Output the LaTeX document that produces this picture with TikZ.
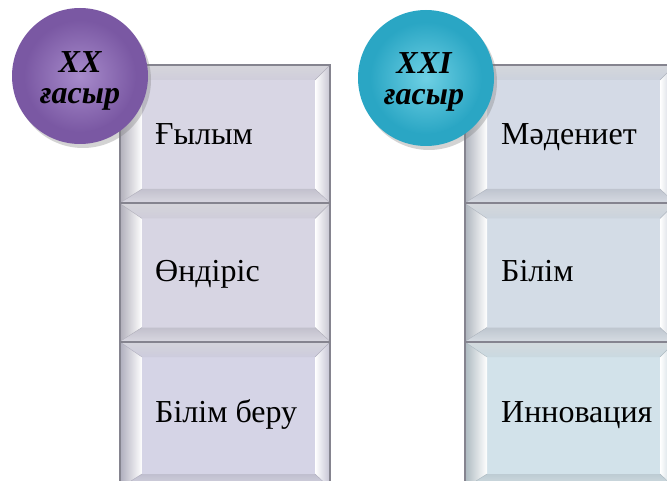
\documentclass[tikz,border=0pt]{standalone}
\usepackage{fontspec}
\setmainfont{Liberation Serif}
\usetikzlibrary{shadows,calc}
\definecolor{boxedge}{HTML}{85848F}
\definecolor{lavA}{HTML}{D8D6E4}
\definecolor{lavB}{HTML}{D7D5E3}
\definecolor{lavC}{HTML}{D5D4E6}
\definecolor{bluA}{HTML}{D4DAE6}
\definecolor{bluB}{HTML}{D3DCE6}
\definecolor{bluC}{HTML}{D2E2EA}
\definecolor{purp}{HTML}{7A58A3}
\definecolor{purpL}{HTML}{A78BCB}
\definecolor{teal}{HTML}{2AA6C4}
\definecolor{tealL}{HTML}{6ED0E4}
\begin{document}
\begin{tikzpicture}[x=1pt,y=-1pt,
  bevbox/.style={draw=boxedge, line width=1.2pt, fill=#1, minimum width=210pt,
    minimum height=138pt, inner sep=0pt,
    path picture={
      \coordinate (pa) at (path picture bounding box.north west);
      \coordinate (pb) at (path picture bounding box.north east);
      \coordinate (pc) at (path picture bounding box.south east);
      \coordinate (pd) at (path picture bounding box.south west);
      \coordinate (qa) at ($(pa)+(22pt,-15pt)$);
      \coordinate (qb) at ($(pb)+(-15pt,-15pt)$);
      \coordinate (qc) at ($(pc)+(-15pt,14pt)$);
      \coordinate (qd) at ($(pd)+(22pt,14pt)$);
      \shade[top color=#1!80!black!50!white, bottom color=#1!96!black] (pa)--(pb)--(qb)--(qa)--cycle;
      \shade[left color=#1!82!black, right color=white] (pd)--(pa)--(qa)--(qd)--cycle;
      \shade[left color=white, right color=#1!92!black] (pb)--(pc)--(qc)--(qb)--cycle;
      \shade[top color=#1!90!black, bottom color=#1!93!black!70!white] (pc)--(pd)--(qd)--(qc)--cycle;
      \draw[#1!82!black, line width=0.4pt] (pa)--(qa) (pb)--(qb) (pc)--(qc) (pd)--(qd);
    }},
  ball/.style={circle, minimum size=136pt, inner sep=0pt, fill=#1,
    drop shadow={shadow xshift=3pt, shadow yshift=-4pt, opacity=0.35}},
  inball/.style={circle, minimum size=112pt, inner sep=0pt},
  boxtext/.style={anchor=base west, inner sep=0pt, font=\fontsize{32}{36}\selectfont},
  balltext/.style={anchor=base, inner sep=0pt, font=\fontsize{32}{32}\selectfont\bfseries\itshape}
]
\useasboundingbox (0,0) rectangle (667,481);
\clip (0,0) rectangle (667,481);
% left column
\node[bevbox=lavA] (b11) at (225,134) {};
\node[bevbox=lavB] (b12) at (225,272.5) {};
\node[bevbox=lavC, minimum height=146pt] (b13) at (225,415) {};
% right column
\node[bevbox=bluA] (b21) at (570,134) {};
\node[bevbox=bluB] (b22) at (570,272.5) {};
\node[bevbox=bluC, minimum height=146pt] (b23) at (570,415) {};
% texts
\node[boxtext] (t11) at (155,145) {Ғылым};
\node[boxtext] (t12) at (155,282) {Өндіріс};
\node[boxtext] (t13) at (155,422) {Білім беру};
\node[boxtext] (t21) at (501,145) {Мәдениет};
\node[boxtext] (t22) at (501,282) {Білім};
\node[boxtext] (t23) at (501,422) {Инновация};
% balls
\node[ball=purp] (c1) at (80,76) {};
\node[inball, inner color=purpL, outer color=purp] (c1i) at (c1) {};
\node[ball=teal] (c2) at (426,78) {};
\node[inball, inner color=tealL, outer color=teal] (c2i) at (c2) {};
\node[balltext] (c1a) at (80,73) {XX};
\node[balltext] (c1b) at (80,104) {ғасыр};
\node[balltext] (c2a) at (424,74) {XXI};
\node[balltext] (c2b) at (424,105) {ғасыр};
\end{tikzpicture}
\end{document}
